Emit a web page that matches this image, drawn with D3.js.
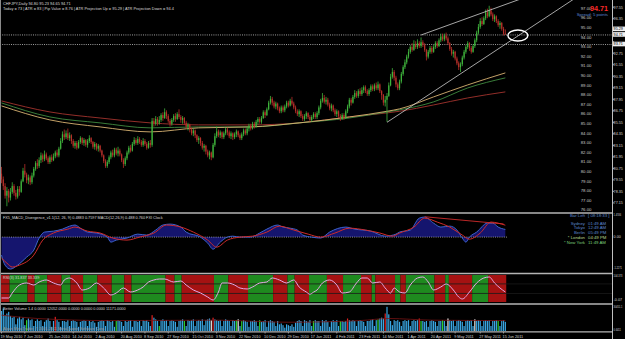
<!DOCTYPE html>
<html><head><meta charset="utf-8">
<script src="https://cdnjs.cloudflare.com/ajax/libs/d3/7.8.5/d3.min.js"></script>
<style>
html,body{margin:0;padding:0;background:#000;overflow:hidden}
svg{display:block}
text{font-family:"Liberation Sans",Arial,sans-serif}
</style></head><body>
<script>
// ---- price data, CHFJPY daily (open = previous close) ----
const firstOpen = 80.2;
const closes = [
79.6,78.9,77.9,78.4,77.7,78.3,78.9,78.2,77.8,78.6,
78.3,79.4,80.5,80.1,79.5,79.8,79.3,80.0,80.7,81.3,
81.0,81.6,82.1,81.7,82.2,81.8,81.4,81.9,81.6,82.0,
82.4,82.1,82.8,83.6,84.3,84.0,84.4,83.9,84.2,83.6,
83.1,83.4,82.9,83.5,83.9,83.4,83.7,83.2,83.6,83.9,
83.5,83.0,83.3,82.8,83.1,82.6,82.1,81.5,81.0,81.4,
81.9,82.4,82.1,82.7,82.3,82.6,82.2,81.6,81.2,81.8,
82.4,82.9,82.6,83.3,83.7,83.4,83.8,83.5,83.2,83.6,
83.3,82.9,83.4,83.2,85.7,85.4,85.9,85.5,85.8,86.3,
86.0,86.6,86.2,85.7,85.4,85.8,86.2,85.9,86.4,86.1,
85.8,86.0,85.5,85.1,85.3,84.8,84.4,84.7,84.2,83.7,
83.9,83.4,82.9,83.1,82.5,82.1,82.4,81.9,83.2,84.1,
84.6,84.2,84.5,84.0,84.4,84.8,84.5,84.1,84.4,84.0,
84.3,84.6,84.2,83.9,84.3,84.7,84.4,84.9,85.2,84.9,
85.4,85.1,85.6,85.9,85.6,86.0,86.6,86.3,86.9,87.6,
88.0,87.6,87.2,87.5,87.0,86.7,87.1,86.8,87.2,87.6,
87.3,87.8,87.5,87.1,86.7,86.4,86.7,86.2,85.9,86.2,
86.5,86.1,85.8,86.1,86.4,86.1,86.5,87.1,87.8,88.1,
87.7,87.9,87.4,87.0,87.3,86.8,86.4,86.7,86.2,85.9,
86.3,86.0,86.7,87.2,87.9,87.6,88.2,88.6,88.3,88.8,
88.5,88.9,89.2,88.8,88.5,88.9,89.3,89.0,89.4,89.1,
89.5,88.8,88.4,87.6,87.9,88.3,89.4,90.3,90.8,90.2,
89.5,89.1,89.8,90.6,91.3,91.8,92.4,92.9,93.4,93.1,
93.7,93.4,93.8,93.5,93.9,93.6,93.1,92.4,92.9,93.3,
92.9,93.4,93.8,93.5,94.1,94.5,94.2,94.6,94.3,93.8,
93.2,92.7,92.9,92.2,91.7,91.3,91.6,92.3,92.9,93.4,
93.8,93.3,92.9,93.5,94.1,94.9,95.5,96.1,95.8,96.4,
97.0,96.6,97.2,96.8,96.3,96.6,96.1,95.7,95.9,95.3,
94.8,94.71];
const highs = [
80.9,79.9,79.2,78.8,78.6,78.7,79.3,79.1,78.5,78.9,
78.9,79.6,80.8,81.2,80.3,80.1,80.0,80.3,80.9,81.5,
81.7,81.9,82.4,82.3,82.6,82.4,82.0,82.1,82.2,82.3,
82.6,82.7,83.0,83.9,84.6,84.8,84.7,84.9,84.5,84.3,
83.8,83.6,83.6,83.7,84.1,84.0,83.9,83.8,83.8,84.2,
84.0,83.6,83.5,83.4,83.3,83.2,82.7,82.2,81.7,81.6,
82.1,82.6,82.7,82.9,82.9,83.0,82.8,82.3,81.8,82.0,
82.6,83.1,83.2,83.5,84.0,83.9,84.1,84.0,83.7,83.9,
83.8,83.5,83.6,83.7,86.0,86.0,86.2,86.1,86.2,86.5,
86.6,87.0,86.8,86.4,85.9,86.0,86.4,86.5,86.6,86.9,
86.3,86.2,86.1,85.7,85.5,85.4,85.0,84.9,84.8,84.3,
84.1,84.0,83.6,83.3,83.2,82.7,82.6,82.5,83.4,84.4,
85.1,84.8,84.7,84.6,84.6,85.0,85.0,84.7,84.6,84.5,
84.5,84.8,84.7,84.4,84.5,84.9,84.9,85.1,85.4,85.4,
85.6,85.6,85.8,86.1,86.1,86.2,86.8,86.8,87.1,87.8,
88.3,88.2,87.8,87.7,87.6,87.2,87.3,87.3,87.4,87.8,
87.8,88.0,88.2,87.7,87.3,86.9,86.9,86.8,86.4,86.4,
86.7,86.6,86.3,86.3,86.6,86.6,86.7,87.3,88.0,88.6,
88.4,88.2,88.1,87.6,87.5,87.4,87.0,86.9,86.8,86.4,
86.5,86.5,86.9,87.4,88.1,88.1,88.4,88.9,88.8,89.0,
89.1,89.2,89.4,89.4,89.0,89.1,89.5,89.5,89.6,89.7,
89.8,89.6,88.9,88.5,88.3,88.6,89.7,90.6,91.2,91.0,
90.4,89.7,90.0,90.8,91.5,92.1,92.6,93.2,93.6,93.8,
94.1,94.0,94.2,94.0,94.4,94.1,93.8,93.2,93.1,93.5,
93.5,93.6,94.0,94.0,94.3,94.8,94.8,94.8,94.9,94.5,
93.9,93.4,93.1,93.0,92.4,91.9,91.8,92.5,93.1,93.6,
94.0,93.9,93.5,93.7,94.3,95.1,95.8,96.4,96.5,96.6,
97.3,97.4,97.7,97.5,97.0,96.8,96.7,96.3,96.1,96.0,
95.5,95.23];
const lows = [
79.2,78.5,77.6,76.8,77.2,77.4,78.1,77.9,77.5,77.6,
77.9,78.2,79.3,79.8,79.2,79.1,79.0,79.1,79.8,80.5,
80.7,80.8,81.3,81.4,81.5,81.6,81.2,81.2,81.4,81.5,
81.8,81.9,81.9,82.7,83.4,83.7,83.8,83.7,83.6,83.3,
82.9,82.8,82.7,82.8,83.3,83.2,83.1,83.0,82.9,83.4,
83.3,82.8,82.7,82.6,82.5,82.4,81.9,81.3,80.8,80.8,
81.2,81.7,81.9,81.9,82.1,82.0,82.0,81.4,80.8,81.0,
81.6,82.2,82.4,82.5,83.1,83.2,83.2,83.3,83.0,83.0,
83.1,82.7,82.8,82.9,83.0,85.1,85.2,85.2,85.3,85.6,
85.7,85.9,85.9,85.5,85.1,85.2,85.6,85.6,85.8,85.9,
85.5,85.4,85.3,84.9,84.7,84.5,84.2,84.1,83.9,83.5,
83.3,83.1,82.7,82.5,82.2,81.9,81.7,81.6,81.8,83.0,
83.9,84.0,83.9,83.8,83.8,84.2,84.2,83.9,83.8,83.7,
83.8,84.0,84.0,83.7,83.7,84.1,84.2,84.2,84.6,84.7,
84.8,84.9,85.0,85.3,85.4,85.4,85.9,86.0,86.2,86.8,
87.4,87.3,87.0,86.9,86.8,86.5,86.5,86.6,86.6,87.0,
87.1,87.2,87.3,86.9,86.5,86.2,86.1,86.0,85.7,85.7,
85.9,85.9,85.6,85.6,85.9,85.9,85.9,86.3,86.9,87.6,
87.5,87.4,87.2,86.8,86.7,86.6,86.2,86.1,86.0,85.7,
85.8,85.8,85.9,86.5,87.0,87.3,87.5,88.0,88.1,88.1,
88.3,88.3,88.6,88.6,88.3,88.3,88.7,88.8,88.8,88.9,
88.9,88.6,87.9,87.3,87.2,85.6,88.2,89.3,90.1,89.9,
89.2,88.9,88.9,89.6,90.4,91.1,91.6,92.2,92.7,92.9,
93.0,93.2,93.2,93.3,93.3,93.4,92.9,92.0,92.2,92.7,
92.7,92.8,93.2,93.3,93.4,93.9,94.0,94.0,94.1,93.6,
93.0,92.5,92.3,92.0,91.5,91.0,90.8,91.4,92.1,92.7,
93.2,93.0,92.7,92.8,93.3,93.9,94.7,95.3,95.6,95.7,
96.2,96.4,96.5,96.6,96.1,96.0,95.9,95.5,95.3,95.1,
94.6,94.65];

// moving averages read at sample bars
const maBars  = [0, 27, 55, 83, 110, 139, 166, 194, 215, 222, 241, 260, 281];
const maRed   = [87.78, 86.63, 86.0, 85.49, 85.28, 85.28, 85.49, 86.11, 86.53, 86.7, 87.36, 88.09, 88.72];
const maGreen = [87.57, 86.11, 85.49, 84.97, 85.07, 85.07, 85.49, 86.0, 86.63, 86.85, 87.68, 89.13, 90.18];
const maTan   = [87.26, 85.8, 85.07, 84.55, 84.97, 85.07, 85.49, 86.11, 86.7, 86.95, 88.2, 89.45, 90.7];

// drawn objects
const lowerTrendBars = [215, 288], lowerTrendPrices = [85.55, 94.55];
const upperTrendBars = [234, 289], upperTrendPrices = [94.65, 98.37];
const circleBar = 288, circlePrice = 94.6;
const dottedLevels = [94.71, 93.71];
const priceTags = [95.29, 94.71, 93.71];
const levelLabels = [97,96,95,94,93,92,91,90,89,88,87,86,85,84,83,82,81,80,79,78,77,76];
const priceTicks = [97.55,96.35,95.15,93.95,92.75,91.55,90.35,89.15,87.95,86.75,85.55,84.35,83.15,81.95,80.75,79.55,78.35,77.15];

// MACD pane
const macdBars = [0,2,5,9,14,18,21,24,29,34,38,41,44,48,53,59,61,64,70,76,81,86,90,94,100,103,111,115,118,122,126,129,133,139,144,148,154,157,161,165,168,173,178,183,192,197,206,214,220,222,228,233,236,241,245,250,254,257,259,261,265,271,274,277,281];
const macdMain = [-1.15,-1.79,-2.04,-1.79,-1.28,-0.83,-0.06,0.32,0.38,0.51,0.70,0.77,0.57,0.32,0.26,0.0,-0.32,-0.19,-0.06,0.19,0.13,0.45,0.77,0.83,0.64,0.32,0.0,-0.38,-0.77,-0.32,0.0,0.06,0.0,0.0,0.26,0.51,0.77,0.64,0.57,0.45,0.13,0.0,-0.06,0.32,0.64,0.51,0.38,0.06,0.19,0.32,0.45,1.21,1.28,0.89,0.64,0.70,0.45,-0.06,-0.32,0.0,0.32,0.89,0.89,0.64,0.49];
const signalBars = [0,3,6,10,18,23,29,37,41,48,55,62,70,77,85,92,100,107,115,120,126,133,140,148,155,163,171,178,186,194,203,211,218,222,230,236,243,250,257,261,267,273,277,281];
const signalValues = [-1.34,-1.66,-1.91,-1.79,-1.15,-0.19,0.26,0.51,0.64,0.38,0.26,-0.06,-0.19,0.0,0.26,0.77,0.64,0.32,-0.19,-0.64,-0.19,0.0,0.06,0.32,0.70,0.45,0.19,0.0,0.26,0.57,0.45,0.26,0.06,0.26,0.64,1.21,0.96,0.64,0.13,-0.13,0.26,0.96,0.89,0.76];
const divergenceBars = [236, 280], divergenceValues = [1.30, 0.84];
const clockNames = ["Bar Left","Sydney","Tokyo","Berlin","* London","* New York"];
const clockTimes = ["[ 08:18:33 ]","01:49 AM","12:49 AM","05:49 PM","04:49 PM","11:49 AM"];

// RSI pane
const rsiBars = [0,4,6,10,14,18,21,25,29,33,35,38,42,45,49,53,57,61,64,68,72,76,79,82,85,88,91,96,100,103,107,111,115,118,121,123,126,130,133,137,140,144,148,151,155,159,163,166,170,172,174,176,179,183,187,190,194,198,201,204,207,211,214,217,219,222,225,228,232,235,238,241,245,248,252,255,257,261,265,269,272,275,278,281];
const rsiValues = [15.5,15.5,34.8,65.7,73.5,65.7,77.3,85.1,73.5,65.7,85.1,92.8,73.5,46.4,54.1,73.5,54.1,27.1,34.8,54.1,38.7,46.4,58.0,77.3,85.1,88.9,88.9,77.3,81.2,65.7,46.4,34.8,19.3,7.7,38.7,73.5,73.5,65.7,54.1,50.3,58.0,73.5,77.3,92.8,85.1,73.5,85.1,58.0,38.7,30.0,38.0,46.4,73.5,85.1,65.7,34.8,38.7,73.5,92.8,92.8,73.5,77.3,54.1,34.8,54.1,38.7,34.8,65.7,92.8,96.7,77.3,46.4,58.0,69.6,46.4,19.3,11.6,38.7,73.5,92.8,96.7,73.5,54.1,38.7];
const bandStarts = [0,5,15,19,26,34,39,46,54,62,69,73,92,97,101,119,127,138,152,160,164,172,182,191,201,207,209,220,223,226,242,248,250,263,272];
const bandColors = ["r","g","r","g","r","g","r","g","r","g","r","g","r","g","r","g","r","g","r","g","r","g","r","g","r","g","r","g","r","g","r","g","r","g","r"];
const rsiLevels = [70, 33];

// volume pane (thousands of ticks)
const volumes = [
24,27,19,21,23, 18,16,17,8,15, 17,14,16,7,13, 15,13,14,6,12,
14,12,13,6,11, 13,15,12,5,12, 17,13,11,5,12, 12,11,13,6,12,
13,12,11,5,11, 12,13,12,6,12, 11,12,10,5,11, 12,13,12,6,13,
12,11,12,5,12, 13,12,11,6,12, 11,12,13,5,12, 12,11,12,6,13,
12,13,11,6,19, 16,14,12,6,13, 14,12,13,6,12, 13,12,11,5,12,
13,14,12,6,13, 12,13,14,6,12, 13,12,14,7,13, 14,15,13,16,14,
13,12,13,6,12, 14,13,12,6,13, 12,13,14,6,12, 13,12,11,5,12,
12,13,12,6,13, 11,12,13,5,12, 13,12,11,6,12, 8,9,7,4,8,
7,6,8,5,10, 12,13,12,6,13, 12,11,13,6,12, 13,12,12,6,13,
12,13,11,5,12, 13,12,13,6,12, 12,11,12,15,13, 12,13,12,6,12,
13,12,11,6,12, 12,13,14,6,13, 14,15,16,15,21, 29,20,12,7,13,
12,13,11,6,12, 13,12,13,6,12, 13,12,13,15,12, 12,11,12,5,12,
13,12,11,6,12, 12,13,12,6,15, 13,12,13,6,12, 13,12,11,6,12,
13,12,13,6,14, 12,13,12,6,12, 13,12,13,6,12, 12,13,12,6,12,
13,11];
const redVolBars = [30, 84, 118, 193, 214, 233];
const greenVolBars = [14, 64, 88, 102, 131, 134, 144, 174, 189, 210, 234, 246, 277];
const whiteVolBars = [117, 132, 249, 264];
const volMaBars = [0, 20, 60, 120, 160, 200, 216, 240, 281];
const volMa = [19, 15, 12.5, 13, 10.5, 12.5, 15, 13, 12.5];

// sub-window scale labels on the right axis
const paneLabels = ["1.4746", "0.00", "-1.2271", "104.373", "-0.07", "30451.1", "0.6411"];
const paneLabelY = [215.8, 238.3, 268.6, 277.2, 301.2, 308.3, 331];

// date axis
const dateLabels = ["19 May 2010","7 Jun 2010","25 Jun 2010","14 Jul 2010","2 Aug 2010","20 Aug 2010","8 Sep 2010","27 Sep 2010","15 Oct 2010","3 Nov 2010","22 Nov 2010","10 Dec 2010","29 Dec 2010","17 Jan 2011","4 Feb 2011","23 Feb 2011","14 Mar 2011","1 Apr 2011","20 Apr 2011","9 May 2011","27 May 2011","15 Jun 2011"];
const dateBars = [0,13,27,40,53,67,80,93,107,120,133,147,160,173,187,200,213,227,240,253,267,280];

// ---------------------------------------------------------------
const W = 625, H = 339, AX = 612;
const svg = d3.select("body").append("svg").attr("width", W).attr("height", H);
svg.append("rect").attr("width", W).attr("height", H).attr("fill", "#000");

const n = closes.length;
const x = d3.scaleLinear().domain([0, n - 1]).range([1.5, 1.5 + 1.793 * (n - 1)]);
const y = d3.scaleLinear().domain([98.3, 76.2]).range([0, 212]);
const ym = d3.scaleLinear().domain([1.4746, -2.2271]).range([214, 272]);
const yr = d3.scaleLinear().domain([104.373, 0]).range([275, 302]);
const yv = d3.scaleLinear().domain([0, 30]).range([331, 306]);

const defs = svg.append("defs");
defs.append("clipPath").attr("id", "cMain").append("rect").attr("x", 0).attr("y", 0).attr("width", AX).attr("height", 212);
defs.append("clipPath").attr("id", "cMacd").append("rect").attr("x", 0).attr("y", 214).attr("width", AX).attr("height", 59);

const bars = d3.range(n).map(i => ({
  i, o: i === 0 ? firstOpen : closes[i - 1], h: highs[i], l: lows[i], c: closes[i], v: volumes[i]
}));

function txt(g, xx, yy, s, size, fill, anchor) {
  return g.append("text").attr("x", xx).attr("y", yy).attr("font-size", size)
    .attr("fill", fill).attr("text-anchor", anchor || "start").text(s);
}
// right-axis label, squeezed horizontally into the 11px strip right of the axis
function axTxt(g, yy, s, fill) {
  const sx = s.length > 5 ? 0.66 : 1;
  return g.append("text").attr("transform", `translate(613.6,${yy}) scale(${sx},1)`)
    .attr("font-size", 3.7).attr("fill", fill || "#d8d8d8").text(s);
}

// ---- main pane ----
const main = svg.append("g").attr("clip-path", "url(#cMain)");

main.selectAll("line.lvl").data(dottedLevels).join("line")
  .attr("x1", 0).attr("x2", AX).attr("y1", d => y(d) + 0.5).attr("y2", d => y(d) + 0.5)
  .attr("stroke", "#c8c8c8").attr("stroke-width", 0.8).attr("stroke-dasharray", "1,1.2");

const maLine = d3.line().x(d => x(d[0])).y(d => y(d[1])).curve(d3.curveMonotoneX);
[[maRed, "#a3332e"], [maGreen, "#3f8a3f"], [maTan, "#d8b272"]].forEach(([vals, col]) => {
  main.append("path").attr("d", maLine(maBars.map((b, k) => [b, vals[k]])))
    .attr("fill", "none").attr("stroke", col).attr("stroke-width", 0.9);
});

const cg = main.append("g");
cg.selectAll("line").data(bars).join("line")
  .attr("x1", d => x(d.i)).attr("x2", d => x(d.i))
  .attr("y1", d => y(Math.max(d.h, d.o, d.c))).attr("y2", d => y(Math.min(d.l, d.o, d.c)))
  .attr("stroke", d => d.c >= d.o ? "#3fb43c" : "#b8302a").attr("stroke-width", 0.8);
cg.selectAll("rect").data(bars).join("rect")
  .attr("x", d => x(d.i) - 0.6).attr("width", 1.2)
  .attr("y", d => y(Math.max(d.o, d.c))).attr("height", d => Math.max(0.6, Math.abs(y(d.o) - y(d.c))))
  .attr("fill", d => d.c >= d.o ? "#3fb43c" : "#b8302a");

function trend(bs, ps) {
  const t = d3.scaleLinear().domain(bs).range(ps);
  main.append("line").attr("x1", x(bs[0])).attr("y1", y(ps[0]))
    .attr("x2", x(345)).attr("y2", y(t(345)))
    .attr("stroke", "#cfcfcf").attr("stroke-width", 0.8);
}
trend(lowerTrendBars, lowerTrendPrices);
trend(upperTrendBars, upperTrendPrices);

main.append("ellipse").attr("cx", x(circleBar)).attr("cy", y(circlePrice))
  .attr("rx", 10).attr("ry", 5.5).attr("fill", "none").attr("stroke", "#fff").attr("stroke-width", 1.4);

main.selectAll("text.lv").data(levelLabels).join("text")
  .attr("x", 591.5).attr("y", d => y(d) - 2.6).attr("font-size", 4.3)
  .attr("fill", "#c8c8c8").attr("text-anchor", "end").text(d => d.toFixed(2));

txt(svg, 3, 4.6, "CHFJPY,Daily  94.80 95.23 94.65 94.71", 3.9, "#d8d8d8");
txt(svg, 3, 10.2, "Today = 73   |   ATR = 83   |   Pip Value = 8.76   |   ATR Projection Up = 95.29   |   ATR Projection Down = 94.4", 3.9, "#d8d8d8");
txt(svg, 608, 10.5, "94.71", 7.2, "#ff2a2a", "end").attr("font-weight", "bold");
txt(svg, 608, 15.6, "Spread: 5 points", 4.3, "#5a86d0", "end");

// ---- MACD pane ----
const mg = svg.append("g").attr("clip-path", "url(#cMacd)");
const macdPts = macdBars.map((b, k) => [b, macdMain[k]]);
mg.append("path")
  .attr("d", d3.area().x(d => x(d[0])).y0(ym(0)).y1(d => ym(d[1])).curve(d3.curveMonotoneX)(macdPts))
  .attr("fill", "#15156e");
mg.append("line").attr("x1", 0).attr("x2", 507).attr("y1", ym(0)).attr("y2", ym(0))
  .attr("stroke", "#c8c8c8").attr("stroke-width", 0.7).attr("stroke-dasharray", "1,1.2");
const ml = d3.line().x(d => x(d[0])).y(d => ym(d[1])).curve(d3.curveMonotoneX);
mg.append("path").attr("d", ml(macdPts)).attr("fill", "none").attr("stroke", "#3d63cc").attr("stroke-width", 1);
mg.append("path").attr("d", ml(signalBars.map((b, k) => [b, signalValues[k]])))
  .attr("fill", "none").attr("stroke", "#cf2b2b").attr("stroke-width", 1);
mg.append("line").attr("x1", x(divergenceBars[0])).attr("y1", ym(divergenceValues[0]))
  .attr("x2", x(divergenceBars[1])).attr("y2", ym(divergenceValues[1]))
  .attr("stroke", "#cf2b2b").attr("stroke-width", 0.9);

txt(svg, 3, 219, "FX5_MACD_Divergence_v1.1(12, 26, 9) 0.4883 0.7597   MACD(12,26,9) 0.488 0.760   FXI Clock", 3.8, "#d8d8d8");
const clockY = [216.5, 224.5, 229.4, 234.2, 239, 243.8];
clockNames.forEach((s, k) => {
  const col = k < 4 ? "#5b86cc" : (k === 4 ? "#b8d890" : "#7cd07c");
  txt(svg, 585, clockY[k], s, 4.3, col, "end");
  txt(svg, 588, clockY[k], clockTimes[k], 4.3, col);
});

// ---- RSI pane ----
const rg = svg.append("g");
bandStarts.forEach((s, k) => {
  const e = k + 1 < bandStarts.length ? bandStarts[k + 1] : n;
  rg.append("rect").attr("x", x(s) - 0.9).attr("width", x(e) - x(s))
    .attr("y", 275).attr("height", 27)
    .attr("fill", bandColors[k] === "g" ? "#1f8a1f" : "#a51212");
});
rsiLevels.forEach(v => rg.append("line").attr("x1", 0).attr("x2", AX).attr("y1", yr(v)).attr("y2", yr(v))
  .attr("stroke", "#1a1a1a").attr("stroke-width", 0.8));
rg.append("path").attr("d", d3.line().x(d => x(d[0])).y(d => yr(d[1])).curve(d3.curveMonotoneX)(rsiBars.map((b, k) => [b, rsiValues[k]])))
  .attr("fill", "none").attr("stroke", "#e6a8e6").attr("stroke-width", 1);
txt(svg, 3, 279, "RSI(3) 31.837 33.339", 3.8, "#d8d8d8");

// ---- volume pane ----
const redSet = new Set(redVolBars), greenSet = new Set(greenVolBars), whiteSet = new Set(whiteVolBars);
svg.append("g").selectAll("rect").data(bars).join("rect")
  .attr("x", d => x(d.i) - 0.6).attr("width", 1.2)
  .attr("y", d => yv(d.v)).attr("height", d => yv(0) - yv(d.v))
  .attr("fill", d => redSet.has(d.i) ? "#e02020" : greenSet.has(d.i) ? "#2fd02f" : whiteSet.has(d.i) ? "#f0f0f0" : "#3aa6e2");
svg.append("path").attr("d", d3.line().x(d => x(d[0])).y(d => yv(d[1])).curve(d3.curveMonotoneX)(volMaBars.map((b, k) => [b, volMa[k]])))
  .attr("fill", "none").attr("stroke", "#7a1414").attr("stroke-width", 0.8);
txt(svg, 3, 310, "Better Volume 1.4 0.0000 12052.0000 0.0000 0.0000 0.0000 11171.0000", 3.8, "#d8d8d8");
txt(svg, 3, 329.5, "Alpari MetaTrader, \u00a9 2001-2011 MetaQuotes Software Corp.", 3.8, "#9a9a9a");

// ---- separators and frame ----
[213, 273.5, 304, 331.8].forEach(yy => svg.append("line").attr("x1", 0).attr("x2", AX).attr("y1", yy).attr("y2", yy)
  .attr("stroke", "#b4b4b4").attr("stroke-width", 1.3));
svg.append("line").attr("x1", 0.5).attr("x2", 0.5).attr("y1", 0).attr("y2", 332).attr("stroke", "#8a8a8a").attr("stroke-width", 1);
svg.append("line").attr("x1", AX + 0.5).attr("x2", AX + 0.5).attr("y1", 0).attr("y2", H).attr("stroke", "#c0c0c0").attr("stroke-width", 1);

// ---- right axis ----
const ax = svg.append("g");
priceTicks.forEach(v => {
  ax.append("line").attr("x1", AX).attr("x2", AX + 2).attr("y1", y(v)).attr("y2", y(v)).attr("stroke", "#c0c0c0").attr("stroke-width", 0.8);
  // tick labels sitting under a price tag are hidden, as in the terminal
  if (priceTags.some(t => Math.abs(y(t) - y(v)) < 4.6)) return;
  axTxt(ax, y(v) + 1.4, v.toFixed(2));
});
priceTags.forEach(v => {
  ax.append("rect").attr("x", 613).attr("y", y(v) - 2.3).attr("width", 12).attr("height", 4.6).attr("fill", "#efefef");
  axTxt(ax, y(v) + 1.4, v.toFixed(2), "#000");
});
paneLabels.forEach((s, k) => axTxt(ax, paneLabelY[k], s));

// ---- date axis ----
dateBars.forEach((b, k) => {
  svg.append("line").attr("x1", x(b)).attr("x2", x(b)).attr("y1", 332).attr("y2", 333.5).attr("stroke", "#c0c0c0").attr("stroke-width", 0.7);
  txt(svg, x(b) - 1, 337.5, dateLabels[k], 3.8, "#d8d8d8");
});
</script>
</body></html>
